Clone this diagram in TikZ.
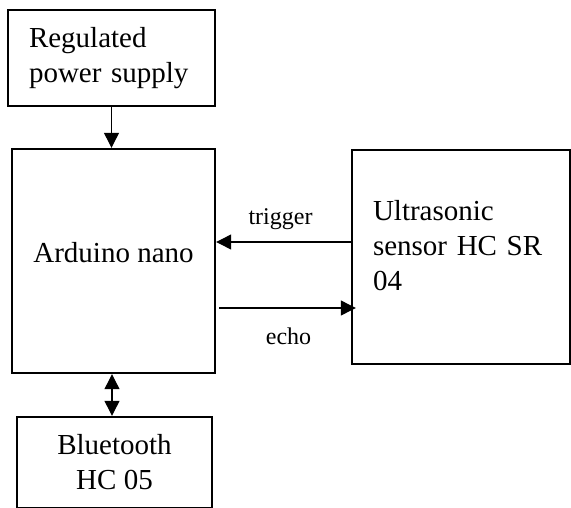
\documentclass[tikz,border=0pt]{standalone}
\usepackage{fontspec}
\setmainfont{Liberation Serif}
\usetikzlibrary{
  arrows.meta,
  calc
}
\tikzset{
blocktext/.style={
  align=center,
  font=\fontsize{29}{35}\selectfont
},
block/.style={
  draw,
  line width=2.4pt,
  inner sep=0pt,
  blocktext
},
arrow/.style={
  -{Triangle[length=15pt,width=15pt]},
  line width=1.2pt
},
biarrow/.style={
  {Triangle[length=15pt,width=15pt]}-{Triangle[length=15pt,width=15pt]},
  line width=1.2pt
},
siglabel/.style={
  font=\fontsize{24}{29}\selectfont,
  inner sep=2pt
}
}

\begin{document}
\begin{tikzpicture}[x=1pt, y=-1pt]
    \useasboundingbox (0,0) rectangle (571,507);

    % Blocks
    \node[block, minimum width=207pt, minimum height=96pt, text width=165pt, align=left] (power) at (111.5,58) {Regulated\\power supply};
    \node[block, minimum width=203pt, minimum height=224pt, text depth=18pt] (arduino) at (113.5,261) {Arduino nano};
    \node[block, minimum width=218pt, minimum height=214pt, text width=176pt, align=left, text depth=94pt] (sensor) at (461,257) {Ultrasonic\\sensor HC SR\\04};
    \node[block, minimum width=195pt, minimum height=91pt] (bt) at (114.5,462.5) {Bluetooth\\HC 05};

    % Connections
    \draw[arrow] (power.south) -- (power.south |- arduino.north);
    \draw[arrow] ($(sensor.west)+(0,15pt)$) -- ($(sensor.west -| arduino.east)+(0,15pt)$)
      node[midway, above=10pt, xshift=-3pt, siglabel] {trigger};
    \draw[arrow] ($(arduino.east)+(3pt,-47pt)$) -- ($(arduino.east -| sensor.west)+(5pt,-47pt)$)
      node[midway, below=17pt, xshift=1pt, siglabel] {echo};
    \draw[biarrow] ([xshift=-1.5pt]arduino.south) -- ([xshift=-1.5pt]arduino.south |- bt.north);

  \end{tikzpicture}
\end{document}
